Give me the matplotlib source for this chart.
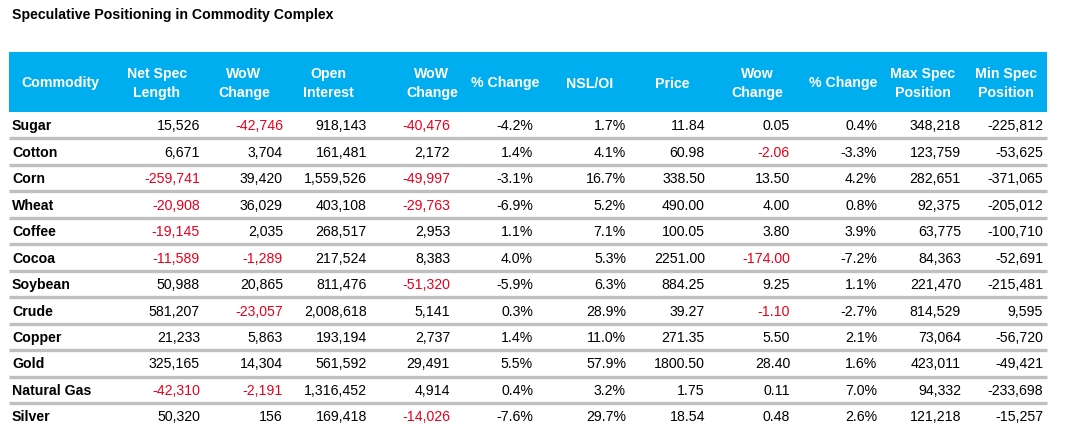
import matplotlib.pyplot as plt
from matplotlib.patches import Rectangle

plt.rcParams['font.family'] = ['Liberation Sans', 'DejaVu Sans']

title = "Speculative Positioning in Commodity Complex"
headers = ["Commodity", "Net Spec\nLength", "WoW\nChange", "Open\nInterest", "WoW\nChange",
           "% Change", "NSL/OI", "Price", "Wow\nChange", "% Change", "Max Spec\nPosition", "Min Spec\nPosition"]

commodities = ["Sugar", "Cotton", "Corn", "Wheat", "Coffee", "Cocoa", "Soybean", "Crude",
               "Copper", "Gold", "Natural Gas", "Silver"]
net_spec = [15526, 6671, -259741, -20908, -19145, -11589, 50988, 581207, 21233, 325165, -42310, 50320]
wow_spec = [-42746, 3704, 39420, 36029, 2035, -1289, 20865, -23057, 5863, 14304, -2191, 156]
open_int = [918143, 161481, 1559526, 403108, 268517, 217524, 811476, 2008618, 193194, 561592, 1316452, 169418]
wow_oi = [-40476, 2172, -49997, -29763, 2953, 8383, -51320, 5141, 2737, 29491, 4914, -14026]
pct_oi = [-4.2, 1.4, -3.1, -6.9, 1.1, 4.0, -5.9, 0.3, 1.4, 5.5, 0.4, -7.6]
nsl_oi = [1.7, 4.1, 16.7, 5.2, 7.1, 5.3, 6.3, 28.9, 11.0, 57.9, 3.2, 29.7]
price = [11.84, 60.98, 338.50, 490.00, 100.05, 2251.00, 884.25, 39.27, 271.35, 1800.50, 1.75, 18.54]
wow_price = [0.05, -2.06, 13.50, 4.00, 3.80, -174.00, 9.25, -1.10, 5.50, 28.40, 0.11, 0.48]
pct_price = [0.4, -3.3, 4.2, 0.8, 3.9, -7.2, 1.1, -2.7, 2.1, 1.6, 7.0, 2.6]
max_spec = [348218, 123759, 282651, 92375, 63775, 84363, 221470, 814529, 73064, 423011, 94332, 121218]
min_spec = [-225812, -53625, -371065, -205012, -100710, -52691, -215481, 9595, -56720, -49421, -233698, -15257]

# (values, format, red when negative)
columns = [
    (net_spec, "{:,.0f}", True),
    (wow_spec, "{:,.0f}", True),
    (open_int, "{:,.0f}", False),
    (wow_oi, "{:,.0f}", True),
    (pct_oi, "{:.1f}%", False),
    (nsl_oi, "{:.1f}%", False),
    (price, "{:.2f}", False),
    (wow_price, "{:.2f}", True),
    (pct_price, "{:.1f}%", False),
    (max_spec, "{:,.0f}", False),
    (min_spec, "{:,.0f}", False),
]

# layout in pixel units
header_centers = [60, 157, 244, 328, 432, 505, 590, 672, 757, 843, 923, 1006]
value_rights = [200, 283, 367, 450, 533, 626, 705, 790, 877, 961, 1043]
left, right = 9, 1047
head_top, head_bot = 52, 112
row_h = 26.45
blue = "#00AEEF"
red = "#E8001C"
gray = "#BFBFBF"

fig = plt.figure(figsize=(10.72, 4.47), dpi=100)
ax = fig.add_axes([0, 0, 1, 1])
ax.set_xlim(0, 1072)
ax.set_ylim(447, 0)
ax.axis('off')

ax.text(12, 15, title, fontsize=10.2, fontweight='bold', va='center', ha='left', color='black')

ax.add_patch(Rectangle((left, head_top), right - left, head_bot - head_top, color=blue, lw=0))
for x, h in zip(header_centers, headers):
    ax.text(x, (head_top + head_bot) / 2 + 1.5, h, color='white', fontsize=10.2, fontweight='bold',
            ha='center', va='center', multialignment='center', linespacing=1.5)

for i, name in enumerate(commodities):
    yc = head_bot + (i + 0.5) * row_h + 1.2
    ax.text(12, yc, name, fontsize=10.2, fontweight='bold', ha='left', va='center')
    for (vals, fmt, red_neg), xr in zip(columns, value_rights):
        v = vals[i]
        c = red if (red_neg and v < 0) else 'black'
        ax.text(xr, yc, fmt.format(v), fontsize=10.2, ha='right', va='center', color=c)
    if i < len(commodities) - 1:
        yl = head_bot + (i + 1) * row_h
        ax.plot([left, right], [yl, yl], color=gray, lw=2.4, solid_capstyle='butt')

fig.savefig("out.png", dpi=100, facecolor='white')
